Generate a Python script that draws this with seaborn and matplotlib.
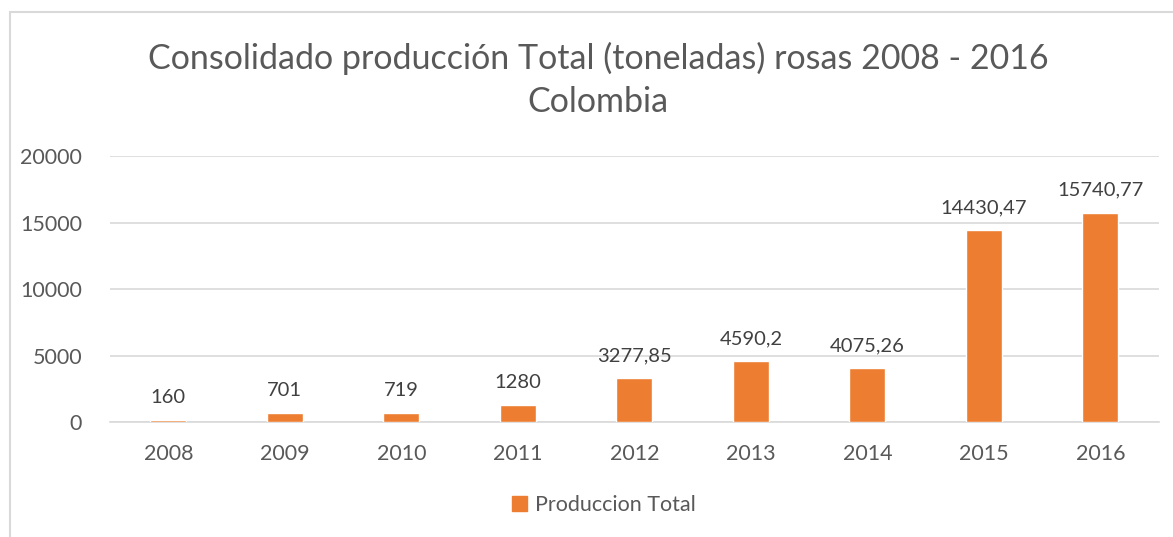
import numpy as np
import pandas as pd
import matplotlib
matplotlib.use("Agg")
import matplotlib.pyplot as plt
import seaborn as sns
from matplotlib.patches import Rectangle, Patch

sns.set_style("white")
plt.rcParams["font.family"] = ["Lato", "DejaVu Sans"]

# datos
anios = ["2008", "2009", "2010", "2011", "2012", "2013", "2014", "2015", "2016"]
produccion = [160, 701, 719, 1280, 3277.85, 4590.2, 4075.26, 14430.47, 15740.77]
etiquetas = ["160", "701", "719", "1280", "3277,85", "4590,2", "4075,26", "14430,47", "15740,77"]

df = pd.DataFrame({"anio": anios, "produccion": produccion})

naranja = "#ED7D31"
gris_texto = "#595959"

fig = plt.figure(figsize=(11.73, 5.37), dpi=100)
ax = fig.add_axes([0.0938, 0.214, 0.894, 0.4953])

sns.barplot(data=df, x="anio", y="produccion", color=naranja, width=0.31,
            saturation=1, ax=ax, zorder=3)

ax.set_ylim(0, 20000)
ax.set_yticks([0, 5000, 10000, 15000, 20000])
ax.yaxis.grid(True, color="#D9D9D9", linewidth=1.2)
ax.set_axisbelow(True)
for s in ["top", "right", "left"]:
    ax.spines[s].set_visible(False)
ax.spines["bottom"].set_color("#D9D9D9")
ax.spines["bottom"].set_linewidth(1.2)
ax.spines["bottom"].set_zorder(1)
ax.tick_params(axis="both", length=0, labelsize=15.5, labelcolor=gris_texto)
ax.tick_params(axis="y", pad=20)
ax.tick_params(axis="x", pad=16)
ax.set_xlabel("")
ax.set_ylabel("")

# etiquetas de datos
ax.bar_label(ax.containers[0], labels=etiquetas, padding=10, fontsize=14.5,
             color="#404040")

# titulo
fig.text(0.51, 0.851, "Consolidado producción Total (toneladas) rosas 2008 - 2016\nColombia",
         ha="center", va="center", fontsize=24.5, color=gris_texto, linespacing=1.45)

# leyenda
fig.legend(handles=[Patch(color=naranja, label="Produccion Total")],
           loc="center", bbox_to_anchor=(0.515, 0.06), frameon=False,
           fontsize=15.5, labelcolor=gris_texto, handlelength=0.7,
           handleheight=0.7, handletextpad=0.35)

# borde del grafico
fig.patches.append(Rectangle((10 / 1173, -0.1), 1.2, 1 - 12 / 537 + 0.1,
                             transform=fig.transFigure, fill=False,
                             edgecolor="#D9D9D9", linewidth=1.5))

fig.savefig("out.png", dpi=100)
plt.close()
